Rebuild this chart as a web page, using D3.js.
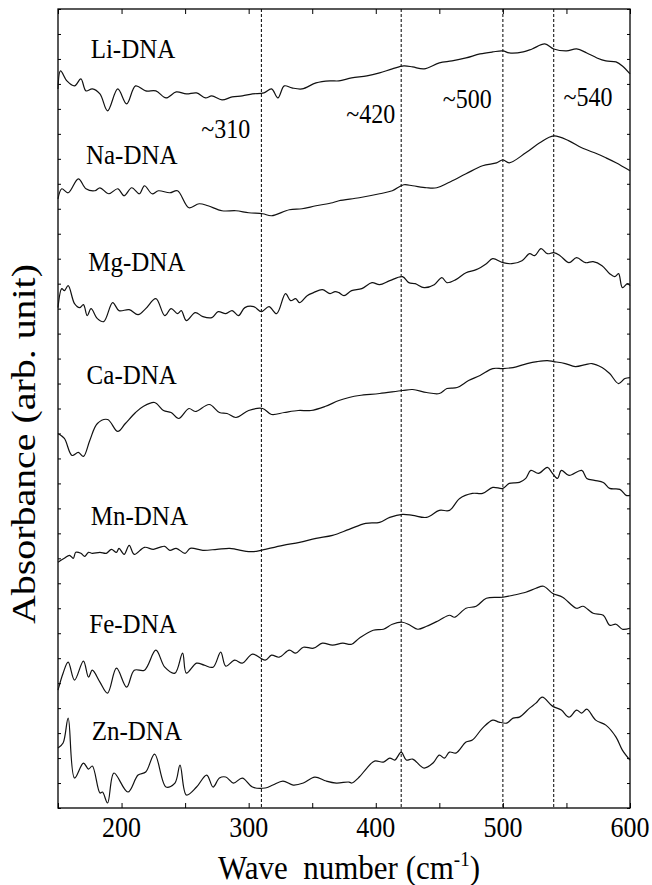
<!DOCTYPE html>
<html>
<head>
<meta charset="utf-8">
<script src="https://cdn.jsdelivr.net/npm/d3@7"></script>
<style>
  body { margin: 0; background: #fff; }
</style>
</head>
<body>
<div id="chart"></div>
<script>
// Spectra: [wave number, absorbance (arb. unit)]
const li = [[150,720],[152,738],[157,728],[163,723],[168,730],[172,718],[177,720],[183,715],[189,698],[197,720],[204,705],[211,723],[219,718],[227,718],[235,711],[243,717],[251,715],[259,716],[266,711],[271,713],[279,709],[287,712],[295,713],[303,715],[312,716],[318,720],[323,711],[328,723],[334,721],[342,720],[353,726],[364,728],[371,728],[381,731],[393,733],[403,736],[413,740],[422,743],[429,742],[438,740],[450,746],[460,748],[471,751],[482,755],[492,757],[500,758],[505,756],[516,757],[523,760],[533,765],[540,760],[550,758],[558,760],[566,756],[574,751],[581,748],[589,747],[594,743],[600,735]];
const na = [[150,610],[153,620],[158,616],[166,630],[172,620],[179,618],[183,621],[190,615],[197,620],[202,613],[208,621],[214,615],[218,623],[224,615],[229,618],[238,616],[244,618],[253,601],[261,605],[268,603],[279,598],[290,598],[300,596],[311,595],[318,593],[332,599],[342,600],[353,603],[366,606],[371,608],[387,611],[403,615],[413,618],[422,624],[429,623],[440,621],[448,621],[457,626],[471,635],[484,643],[495,646],[500,649],[505,646],[518,656],[529,666],[540,673],[552,668],[562,661],[574,655],[581,651],[589,646],[600,638]];
const mg = [[150,501],[153,520],[155,518],[158,523],[163,505],[167,501],[170,504],[173,493],[176,500],[181,490],[186,487],[193,506],[198,498],[206,499],[213,494],[219,500],[227,510],[234,493],[239,500],[244,495],[247,498],[251,488],[258,496],[264,492],[271,491],[276,497],[282,495],[287,498],[292,493],[297,501],[304,502],[310,497],[316,502],[322,495],[329,515],[333,508],[337,510],[340,506],[346,513],[351,516],[358,519],[364,515],[368,517],[371,516],[375,513],[381,518],[389,520],[397,526],[403,524],[411,528],[421,532],[426,526],[431,525],[438,521],[446,524],[452,531],[456,526],[463,529],[471,536],[479,539],[487,545],[492,550],[500,546],[507,545],[515,548],[521,555],[525,553],[530,560],[535,555],[540,556],[545,553],[552,546],[558,551],[565,546],[571,547],[578,543],[584,535],[588,532],[591,535],[594,521],[598,525],[600,523]];
const ca = [[150,375],[155,370],[161,353],[166,356],[170,352],[175,368],[181,385],[189,389],[197,377],[203,385],[211,396],[217,402],[226,406],[233,398],[239,396],[245,390],[253,400],[258,397],[269,404],[277,396],[283,395],[290,391],[300,398],[311,400],[318,394],[328,396],[339,398],[349,398],[360,402],[371,408],[379,411],[387,413],[403,415],[421,418],[429,419],[440,416],[450,415],[456,420],[464,421],[473,428],[482,433],[492,440],[500,440],[508,441],[519,445],[527,447],[535,448],[540,447],[549,445],[557,442],[565,444],[570,445],[578,441],[584,435],[591,425],[596,430],[600,431]];
const mn = [[150,246],[155,250],[159,253],[162,250],[164,256],[168,255],[171,252],[174,256],[177,255],[183,256],[188,255],[192,259],[196,256],[198,260],[202,254],[206,263],[210,254],[218,261],[225,259],[230,261],[234,262],[238,258],[243,260],[250,255],[254,260],[264,258],[275,259],[285,260],[290,259],[298,257],[306,257],[313,259],[327,263],[340,266],[353,270],[366,273],[379,279],[392,285],[403,286],[411,291],[421,294],[429,293],[440,291],[450,298],[458,298],[466,310],[476,315],[484,315],[492,321],[500,320],[505,325],[513,326],[518,330],[522,338],[528,335],[535,341],[539,335],[543,330],[546,338],[552,333],[562,338],[566,330],[572,328],[579,326],[584,320],[592,319],[597,313],[600,313]];
const fe = [[150,118],[154,135],[158,146],[163,128],[170,147],[174,131],[177,138],[183,126],[189,115],[196,140],[204,121],[210,138],[218,138],[227,158],[234,141],[242,135],[248,155],[251,135],[259,145],[265,143],[272,141],[278,156],[282,142],[289,148],[295,145],[303,154],[313,148],[318,153],[324,151],[332,158],[337,155],[343,161],[351,160],[358,165],[366,163],[374,165],[381,164],[387,170],[398,178],[406,179],[413,184],[421,186],[427,183],[433,179],[440,182],[450,188],[458,193],[462,191],[471,200],[479,202],[487,210],[500,211],[508,213],[518,216],[526,220],[532,222],[539,215],[547,211],[558,200],[563,202],[571,195],[579,193],[584,183],[589,184],[594,179],[600,180]];
const zn = [[150,60],[154,65],[158,90],[163,30],[170,45],[174,39],[177,42],[183,15],[185,16],[189,5],[194,35],[205,16],[213,33],[219,36],[226,54],[235,21],[242,25],[246,43],[251,13],[259,21],[267,33],[272,21],[277,30],[282,31],[288,25],[295,30],[303,21],[313,20],[319,23],[327,27],[335,23],[343,25],[352,31],[361,27],[369,25],[379,26],[381,25],[387,31],[393,40],[399,47],[406,46],[411,50],[415,48],[420,56],[424,48],[429,49],[438,40],[445,45],[450,53],[454,50],[458,56],[463,55],[471,66],[476,68],[484,80],[492,88],[497,86],[503,85],[508,90],[513,91],[521,100],[526,105],[531,111],[539,102],[546,98],[552,91],[558,98],[562,95],[566,99],[573,88],[581,83],[589,71],[594,58],[600,48]];

const seriesNames = ["Li-DNA", "Na-DNA", "Mg-DNA", "Ca-DNA", "Mn-DNA", "Fe-DNA", "Zn-DNA"];
const seriesData = [li, na, mg, ca, mn, fe, zn];
// label anchor (text middle, baseline) as [wave number, absorbance]
const seriesLabelPos = [[209, 751], [208, 645], [212, 538], [208, 425], [214, 283], [209, 175], [212, 68]];

const peakLines = [310, 420, 500, 540];
const peakLabels = ["~310", "~420", "~500", "~540"];
const peakLabelPos = [[282, 671], [396, 686], [472, 701], [567, 703]];

const xTicks = [200, 300, 400, 500, 600];

const width = 652;
const height = 885;
const margin = { top: 9, right: 22, bottom: 77, left: 58 };
const serif = '"Liberation Serif", "Times New Roman", serif';
const stretch = 1.12; // the figure's lettering is a bit taller than plain Times

const svg = d3
  .select("#chart")
  .append("svg")
  .attr("width", width)
  .attr("height", height)
  .style("font-family", serif);

// Scales
const x = d3
  .scaleLinear()
  .domain([150, 600])
  .range([margin.left, width - margin.right]);

const y = d3
  .scaleLinear()
  .domain([0, 800])
  .range([height - margin.bottom, margin.top]);

const plotLeft = margin.left;
const plotRight = width - margin.right;
const plotTop = margin.top;
const plotBottom = height - margin.bottom;

const place = (px, py) => `translate(${px}, ${py}) scale(1, ${stretch})`;

// Axes: inward ticks on all four sides, no labels from d3
const minorX = d3.range(150, 601, 50);
svg
  .append("g")
  .attr("transform", `translate(0, ${plotBottom})`)
  .call(d3.axisTop(x).tickValues(minorX).tickSize(5).tickFormat(""))
  .call((g) => g.select(".domain").remove());
svg
  .append("g")
  .attr("transform", `translate(0, ${plotTop})`)
  .call(d3.axisBottom(x).tickValues(minorX).tickSize(5).tickFormat(""))
  .call((g) => g.select(".domain").remove());

const yTicks = d3.range(0, 801, 25);
svg
  .append("g")
  .attr("transform", `translate(${plotLeft}, 0)`)
  .call(d3.axisRight(y).tickValues(yTicks).tickSize(3).tickFormat(""))
  .call((g) => g.select(".domain").remove());
svg
  .append("g")
  .attr("transform", `translate(${plotRight}, 0)`)
  .call(d3.axisLeft(y).tickValues(yTicks).tickSize(3).tickFormat(""))
  .call((g) => g.select(".domain").remove());

svg.selectAll(".tick line").attr("stroke", "#000").attr("stroke-width", 1);

// Frame
svg
  .append("rect")
  .attr("x", plotLeft)
  .attr("y", plotTop)
  .attr("width", plotRight - plotLeft)
  .attr("height", plotBottom - plotTop)
  .attr("fill", "none")
  .attr("stroke", "#000")
  .attr("stroke-width", 1.3);

// Tick labels
svg
  .append("g")
  .selectAll("text")
  .data(xTicks)
  .enter()
  .append("text")
  .attr("transform", (d) => place(x(d), plotBottom + 29))
  .attr("text-anchor", "middle")
  .style("font-family", serif)
  .style("font-size", "26px")
  .text((d) => d);

// Dashed peak markers
svg
  .append("g")
  .selectAll("line")
  .data(peakLines)
  .enter()
  .append("line")
  .attr("x1", (d) => x(d))
  .attr("x2", (d) => x(d))
  .attr("y1", plotTop)
  .attr("y2", plotBottom)
  .attr("stroke", "#000")
  .attr("stroke-width", 1)
  .attr("stroke-dasharray", "3,2");

svg
  .append("g")
  .selectAll("text")
  .data(peakLabels)
  .enter()
  .append("text")
  .attr("transform", (d, i) => place(x(peakLabelPos[i][0]), y(peakLabelPos[i][1])))
  .attr("text-anchor", "middle")
  .style("font-family", serif)
  .style("font-size", "24px")
  .text((d) => d);

// Spectra
const line = d3
  .line()
  .x((d) => x(d[0]))
  .y((d) => y(d[1]))
  .curve(d3.curveCatmullRom.alpha(0.5));

svg
  .append("g")
  .selectAll("path")
  .data(seriesData)
  .enter()
  .append("path")
  .attr("d", line)
  .attr("fill", "none")
  .attr("stroke", "#111")
  .attr("stroke-width", 1.2);

svg
  .append("g")
  .selectAll("text")
  .data(seriesNames)
  .enter()
  .append("text")
  .attr("transform", (d, i) => place(x(seriesLabelPos[i][0]), y(seriesLabelPos[i][1])))
  .attr("text-anchor", "middle")
  .style("font-family", serif)
  .style("font-size", "25px")
  .text((d) => d);

// Axis titles
const xTitle = svg
  .append("text")
  .attr("transform", place(349, 879))
  .attr("text-anchor", "middle")
  .style("font-family", serif)
  .style("font-size", "31px");
xTitle.append("tspan").text("Wave\u00a0\u00a0number (cm");
xTitle.append("tspan").attr("dy", -12).style("font-size", "19px").text("-1");
xTitle.append("tspan").attr("dy", 12).text(")");

svg
  .append("text")
  .attr("transform", "translate(35, 444) rotate(-90)")
  .attr("text-anchor", "middle")
  .attr("textLength", 360)
  .attr("lengthAdjust", "spacingAndGlyphs")
  .style("font-family", serif)
  .style("font-size", "33px")
  .text("Absorbance (arb. unit)");
</script>
</body>
</html>
